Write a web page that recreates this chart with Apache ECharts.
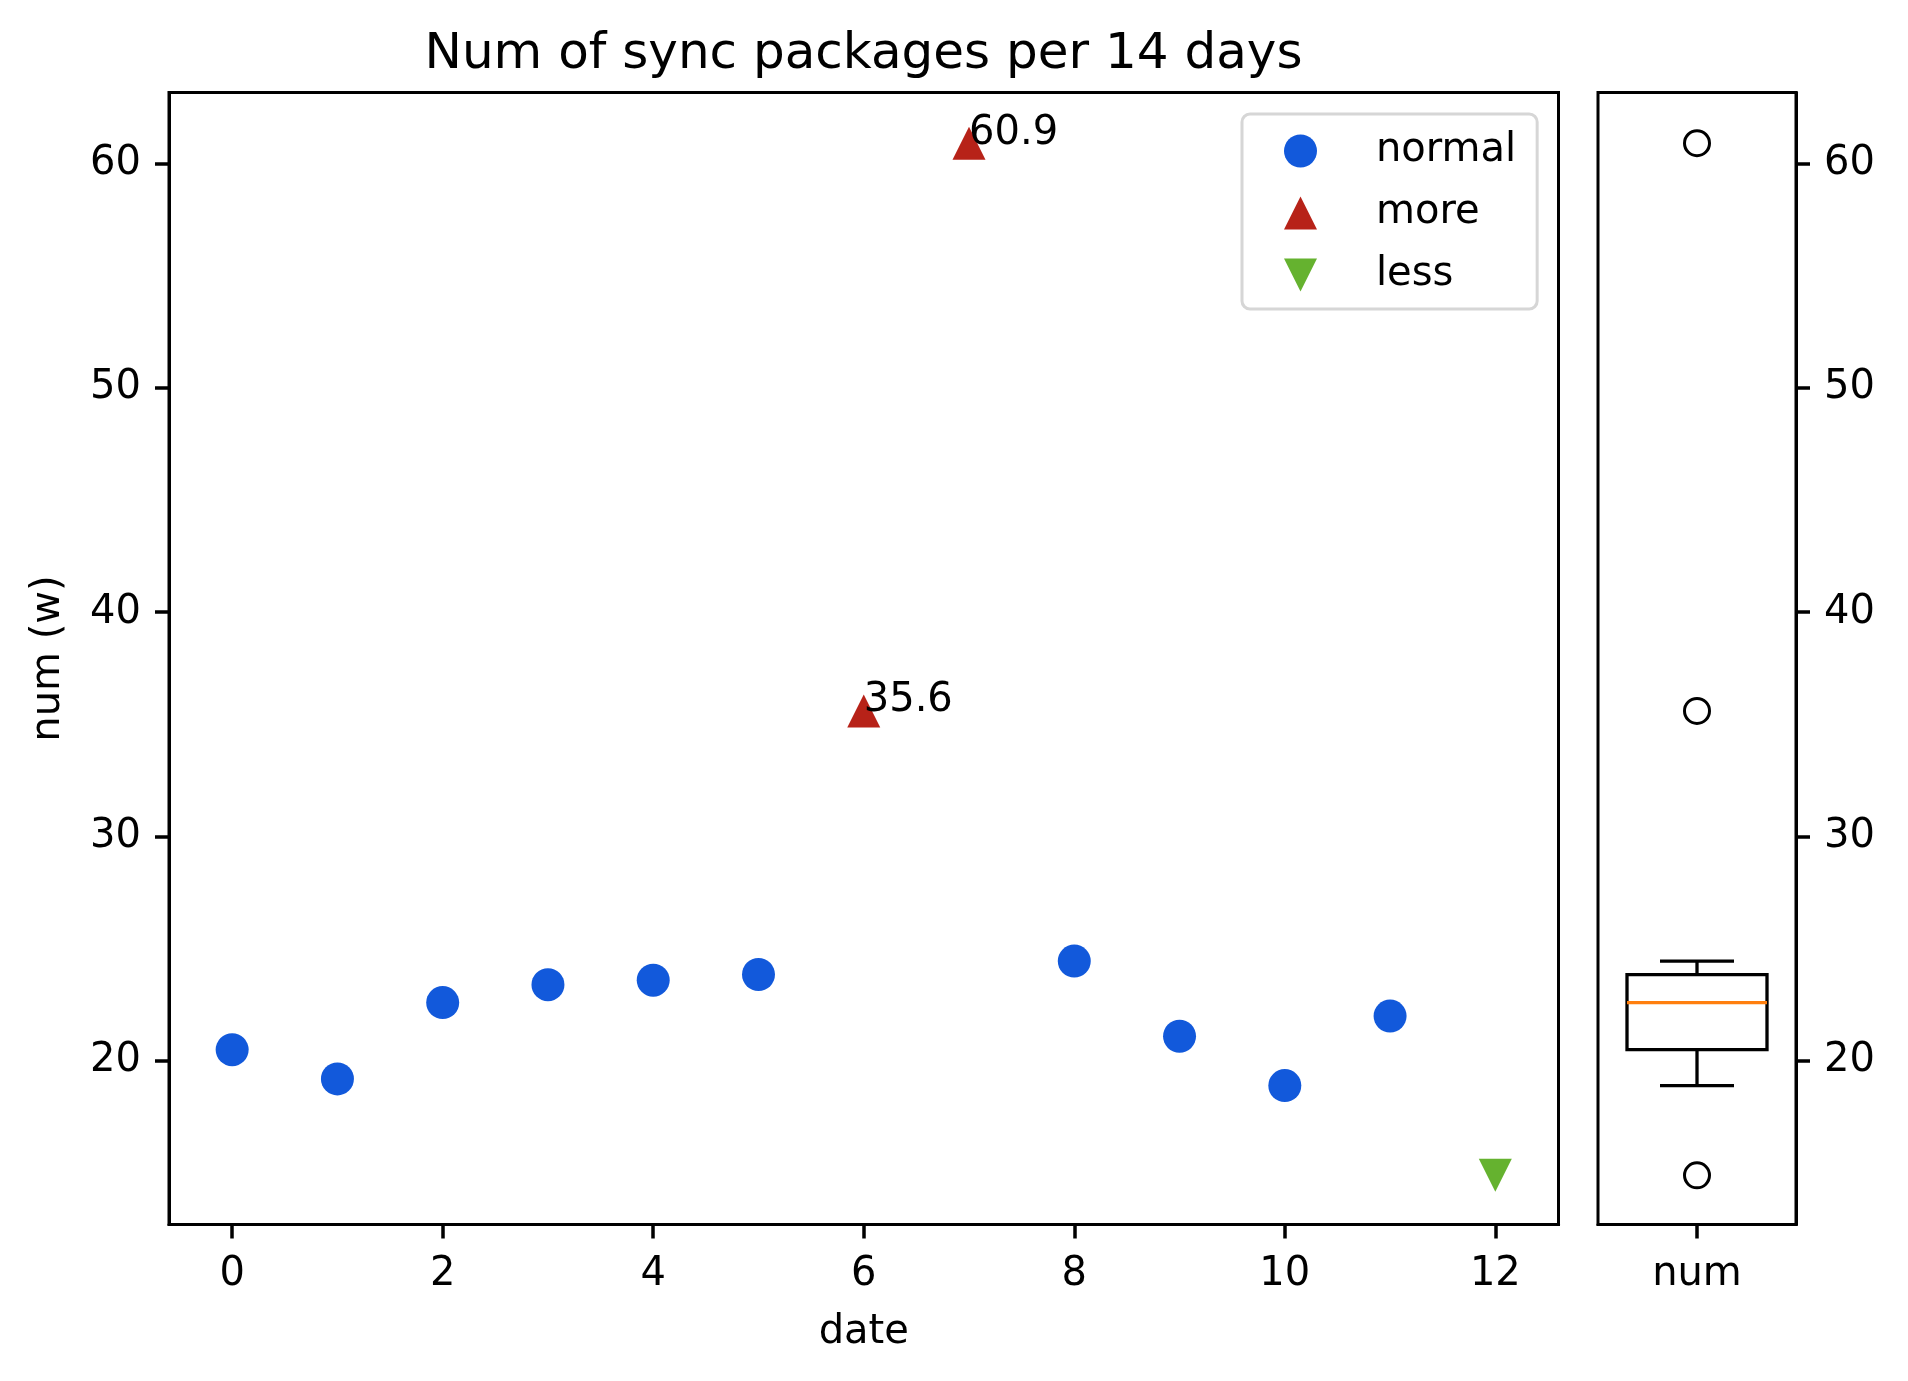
<!DOCTYPE html>
<html>
<head>
<meta charset="utf-8">
<title>Num of sync packages per 14 days</title>
<script src="https://cdn.jsdelivr.net/npm/echarts@6/dist/echarts.min.js"></script>
<style>
  html, body { margin: 0; padding: 0; background: #fff; }
  #main { width: 1908px; height: 1381px; }
</style>
</head>
<body>
<div id="main"></div>
<script>
// data
var dates = [0, 1, 2, 3, 4, 5, 6, 7, 8, 9, 10, 11, 12];
var nums = [20.5, 19.2, 22.6, 23.4, 23.6, 23.85, 35.6, 60.9, 24.45, 21.1, 18.9, 22.0, 14.9];
var kinds = ['normal', 'normal', 'normal', 'normal', 'normal', 'normal', 'more', 'more',
             'normal', 'normal', 'normal', 'normal', 'less'];
var xTicks = [0, 2, 4, 6, 8, 10, 12];
var yTicks = [20, 30, 40, 50, 60];
var xRange = [-0.6, 12.6];
var yRange = [12.71, 63.16];
var boxCategory = ['num'];

var FONT = 'DejaVu Sans';
var colors = { normal: '#1259db', more: '#b72218', less: '#65b22f' };

function pick(kind) {
    var out = [];
    for (var i = 0; i < dates.length; i++) {
        if (kinds[i] == kind) out.push([dates[i], nums[i]]);
    }
    return out;
}

// numpy style linear percentile
function percentile(sorted, p) {
    var pos = (sorted.length - 1) * p,
        lo = Math.floor(pos),
        hi = Math.ceil(pos);
    return sorted[lo] + (sorted[hi] - sorted[lo]) * (pos - lo);
}

// box stats like matplotlib boxplot (whis = 1.5)
function boxStats(arr) {
    var s = arr.slice().sort(function (a, b) { return a - b; });
    var q1 = percentile(s, 0.25), med = percentile(s, 0.5), q3 = percentile(s, 0.75);
    var iqr = q3 - q1, loLim = q1 - 1.5 * iqr, hiLim = q3 + 1.5 * iqr;
    var low = q1, high = q3, fliers = [];
    s.forEach(function (v) {
        if (v < loLim || v > hiLim) fliers.push(v);
        else {
            if (v < low) low = v;
            if (v > high) high = v;
        }
    });
    return { low: low, q1: q1, med: med, q3: q3, high: high, fliers: fliers };
}

var st = boxStats(nums);

var axisText = { fontSize: 40, fontFamily: FONT, color: '#000' };
var axisLine = { show: true, onZero: false, lineStyle: { color: '#000', width: 3 } };
function ticks(values) {
    var t = { show: true, length: 14, inside: false, lineStyle: { color: '#000', width: 3.5 } };
    if (values) t.customValues = values;
    return t;
}

var chart = echarts.init(document.getElementById('main'), null, { renderer: 'canvas' });

var option = {
    animation: false,
    backgroundColor: '#fff',
    title: {
        text: 'Num of sync packages per 14 days',
        left: 858.5,
        top: 25,
        textAlign: 'center',
        textStyle: { fontSize: 50, fontWeight: 'normal', fontFamily: FONT, color: '#000' }
    },
    legend: {
        data: ['normal', 'more', 'less'],
        orient: 'vertical',
        left: 1242,
        top: 114,
        itemWidth: 33,
        itemHeight: 33,
        itemGap: 22,
        padding: [17, 21, 14, 42],
        backgroundColor: '#fff',
        borderColor: '#d6d6d6',
        borderWidth: 3,
        borderRadius: 8,
        textStyle: { fontSize: 40, fontFamily: FONT, color: '#000', padding: [0, 0, 0, 54], lineHeight: 33 }
    },
    grid: [
        { left: 169, top: 92.5, width: 1389.5, height: 1132, show: true, borderColor: '#000', borderWidth: 3,
          containLabel: false, outerBoundsMode: 'none' },
        { left: 1598, top: 92.5, width: 198, height: 1132, show: true, borderColor: '#000', borderWidth: 3,
          containLabel: false, outerBoundsMode: 'none' }
    ],
    xAxis: [
        {
            gridIndex: 0,
            type: 'value',
            position: 'bottom',
            min: xRange[0],
            max: xRange[1],
            name: 'date',
            nameLocation: 'middle',
            nameGap: 88,
            nameTextStyle: axisText,
            axisLine: axisLine,
            splitLine: { show: false },
            axisTick: ticks(xTicks),
            axisLabel: { customValues: xTicks, margin: 30, fontSize: 40, fontFamily: FONT, color: '#000' }
        },
        {
            gridIndex: 1,
            type: 'category',
            position: 'bottom',
            data: boxCategory,
            boundaryGap: true,
            axisLine: axisLine,
            splitLine: { show: false },
            axisTick: { show: true, length: 14, alignWithLabel: true, lineStyle: { color: '#000', width: 3.5 } },
            axisLabel: { margin: 30, fontSize: 40, fontFamily: FONT, color: '#000' }
        }
    ],
    yAxis: [
        {
            gridIndex: 0,
            type: 'value',
            position: 'left',
            min: yRange[0],
            max: yRange[1],
            name: 'num (w)',
            nameLocation: 'middle',
            nameGap: 100,
            nameTextStyle: axisText,
            axisLine: axisLine,
            splitLine: { show: false },
            axisTick: ticks(yTicks),
            axisLabel: { customValues: yTicks, margin: 28, fontSize: 40, fontFamily: FONT, color: '#000' }
        },
        {
            gridIndex: 1,
            type: 'value',
            position: 'right',
            min: yRange[0],
            max: yRange[1],
            axisLine: axisLine,
            splitLine: { show: false },
            axisTick: ticks(yTicks),
            axisLabel: { customValues: yTicks, margin: 28, fontSize: 40, fontFamily: FONT, color: '#000' }
        }
    ],
    series: [
        {
            name: 'normal',
            type: 'scatter',
            xAxisIndex: 0, yAxisIndex: 0,
            symbol: 'circle',
            symbolSize: 33,
            itemStyle: { color: colors.normal, opacity: 1 },
            data: pick('normal')
        },
        {
            name: 'more',
            type: 'scatter',
            xAxisIndex: 0, yAxisIndex: 0,
            symbol: 'triangle',
            symbolSize: 33,
            itemStyle: { color: colors.more, opacity: 1 },
            label: {
                show: true,
                position: ['50%', '50%'],
                align: 'left',
                verticalAlign: 'bottom',
                offset: [0, 10],
                fontSize: 40,
                fontFamily: FONT,
                color: '#000',
                formatter: function (p) { return p.value[1].toFixed(1); }
            },
            data: pick('more')
        },
        {
            name: 'less',
            type: 'scatter',
            xAxisIndex: 0, yAxisIndex: 0,
            symbol: 'path://M0,0 L2,0 L1,2 Z',
            symbolSize: 33,
            itemStyle: { color: colors.less, opacity: 1 },
            data: pick('less')
        },
        {
            name: 'box',
            type: 'custom',
            xAxisIndex: 1, yAxisIndex: 1,
            data: [[0, st.low, st.q1, st.med, st.q3, st.high]],
            encode: { x: 0, y: [1, 2, 3, 4, 5] },
            renderItem: function (params, api) {
                var cx = api.coord([0, api.value(3)])[0];
                var pLow = api.coord([0, api.value(1)])[1],
                    pQ1 = api.coord([0, api.value(2)])[1],
                    pMed = api.coord([0, api.value(3)])[1],
                    pQ3 = api.coord([0, api.value(4)])[1],
                    pHigh = api.coord([0, api.value(5)])[1];
                var half = 70, cap = 37;
                var line = { stroke: '#000', lineWidth: 3.3, fill: null };
                return {
                    type: 'group',
                    children: [
                        { type: 'line', shape: { x1: cx, y1: pQ1, x2: cx, y2: pLow }, style: line },
                        { type: 'line', shape: { x1: cx, y1: pQ3, x2: cx, y2: pHigh }, style: line },
                        { type: 'line', shape: { x1: cx - cap, y1: pLow, x2: cx + cap, y2: pLow }, style: line },
                        { type: 'line', shape: { x1: cx - cap, y1: pHigh, x2: cx + cap, y2: pHigh }, style: line },
                        { type: 'rect', shape: { x: cx - half, y: pQ3, width: half * 2, height: pQ1 - pQ3 },
                          style: { stroke: '#000', lineWidth: 3.3, fill: 'none' } },
                        { type: 'line', shape: { x1: cx - half, y1: pMed, x2: cx + half, y2: pMed },
                          style: { stroke: '#ff7f0e', lineWidth: 3.3 } }
                    ]
                };
            }
        },
        {
            name: 'fliers',
            type: 'scatter',
            xAxisIndex: 1, yAxisIndex: 1,
            symbol: 'circle',
            symbolSize: 25,
            itemStyle: { color: '#fff', borderColor: '#000', borderWidth: 3, opacity: 1 },
            data: st.fliers.map(function (v) { return [0, v]; })
        }
    ]
};

chart.setOption(option);
</script>
</body>
</html>
